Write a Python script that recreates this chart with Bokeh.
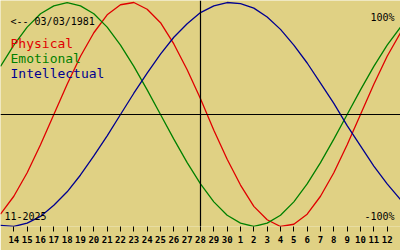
from bokeh.plotting import figure
from bokeh.models import Range1d, FixedTicker, Label, Span
from bokeh.embed import file_html
from bokeh.resources import INLINE

# day index 0 = 13 Nov 2025 ... 30 = 13 Dec 2025
day_index = list(range(31))
physical = [-0.89, -0.73, -0.52, -0.27, 0.00, 0.27, 0.52, 0.73, 0.89, 0.98,
            1.00, 0.94, 0.82, 0.63, 0.40, 0.14, -0.14, -0.40, -0.63, -0.82,
            -0.94, -1.00, -0.98, -0.89, -0.73, -0.52, -0.27, 0.00, 0.27, 0.52, 0.73]
emotional = [0.43, 0.62, 0.78, 0.90, 0.97, 1.00, 0.97, 0.90, 0.78, 0.62,
             0.43, 0.22, 0.00, -0.22, -0.43, -0.62, -0.78, -0.90, -0.97, -1.00,
             -0.97, -0.90, -0.78, -0.62, -0.43, -0.22, 0.00, 0.22, 0.43, 0.62, 0.78]
intellectual = [-0.99, -1.00, -0.97, -0.91, -0.81, -0.69, -0.54, -0.37, -0.19, 0.00,
                0.19, 0.37, 0.54, 0.69, 0.81, 0.91, 0.97, 1.00, 0.99, 0.95,
                0.87, 0.76, 0.62, 0.46, 0.28, 0.10, -0.10, -0.28, -0.46, -0.62, -0.76]
tick_days = list(range(1, 30))
tick_labels = ["14", "15", "16", "17", "18", "19", "20", "21", "22", "23", "24",
               "25", "26", "27", "28", "29", "30", "1", "2", "3", "4", "5", "6",
               "7", "8", "9", "10", "11", "12"]
today_index = 15
birth_text = "<-- 03/03/1981"
month_text = "11-2025"
series_names = ["Physical", "Emotional", "Intellectual"]

BG = "#E0D184"
RED = "#E00000"
GREEN = "#008000"
BLUE = "#000090"
MONO = "DejaVu Sans Mono"

p = figure(frame_width=400, frame_height=226, min_border=0, min_border_bottom=24,
           x_range=Range1d(0, 30), y_range=Range1d(-1.0, 1.018),
           y_axis_location=None, output_backend="svg", toolbar_location=None,
           background_fill_color=BG, border_fill_color=BG, outline_line_color=None)
p.grid.visible = False

ax = p.xaxis[0]
ax.ticker = FixedTicker(ticks=tick_days)
ax.major_label_overrides = {d: lab for d, lab in zip(tick_days, tick_labels)}
ax.axis_line_color = None
ax.major_tick_in = 0
ax.major_tick_out = 5
ax.major_tick_line_color = "black"
ax.minor_tick_line_color = None
ax.major_label_text_font = MONO
ax.major_label_text_font_style = "bold"
ax.major_label_text_font_size = "9px"
ax.major_label_text_color = "black"
ax.major_label_standoff = 4

p.add_layout(Span(location=0, dimension="width", line_color="black", line_width=1.2))
p.add_layout(Span(location=today_index, dimension="height", line_color="black", line_width=1.2))

p.line(day_index, physical, line_color=RED, line_width=1.3)
p.line(day_index, emotional, line_color=GREEN, line_width=1.3)
p.line(day_index, intellectual, line_color=BLUE, line_width=1.3)

def lab(x, y, text, size, color="black", align="left"):
    p.add_layout(Label(x=x, y=y, text=text, text_font=MONO, text_font_size=size,
                       text_color=color, text_align=align, text_baseline="alphabetic"))

lab(0.75, 0.83, birth_text, "10px")
lab(0.75, 0.634, series_names[0], "13px", RED)
lab(0.75, 0.50, series_names[1], "13px", GREEN)
lab(0.75, 0.366, series_names[2], "13px", BLUE)
lab(29.55, 0.866, "100%", "10px", align="right")
lab(29.55, -0.91, "-100%", "10px", align="right")
lab(0.3, -0.91, month_text, "10px")

open("out.html", "w").write(file_html(p, INLINE))
